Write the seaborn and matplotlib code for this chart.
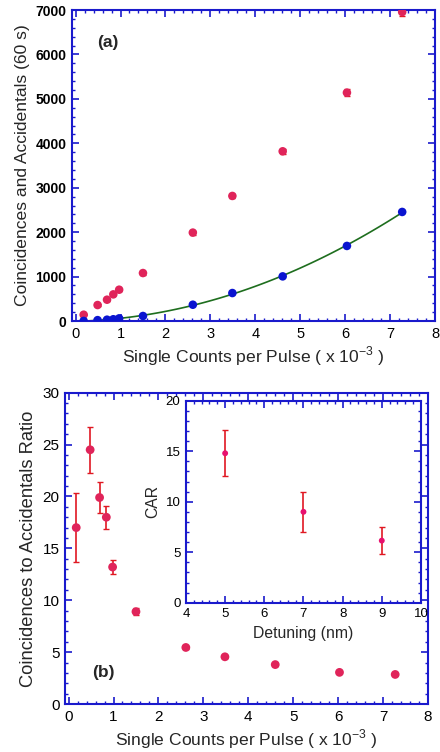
import numpy as np
import pandas as pd
import matplotlib
matplotlib.use("Agg")
import matplotlib.pyplot as plt
import seaborn as sns
from matplotlib.ticker import MultipleLocator

sns.set_theme(style="white")
plt.rcParams['font.family'] = ['Liberation Sans', 'DejaVu Sans']
plt.rcParams['mathtext.fontset'] = 'custom'
plt.rcParams['mathtext.rm'] = 'Liberation Sans'

# panel (a)
singles = [0.18, 0.49, 0.70, 0.84, 0.97, 1.50, 2.61, 3.49, 4.61, 6.04, 7.27]
coinc = [142, 360, 480, 600, 705, 1080, 1990, 2815, 3820, 5140, 6955]
coinc_err = [12, 19, 22, 25, 27, 33, 45, 53, 62, 72, 83]
accid = [2, 20, 30, 40, 60, 113, 367, 630, 1005, 1690, 2455]

# panel (b)
car_x = [0.17, 0.48, 0.69, 0.84, 0.98, 1.50, 2.61, 3.48, 4.60, 6.03, 7.27]
car = [17.0, 24.5, 19.9, 18.0, 13.2, 8.9, 5.45, 4.55, 3.8, 3.05, 2.85]
car_err = [3.3, 2.2, 1.45, 1.1, 0.7, 0.35, 0.12, 0.1, 0.1, 0.08, 0.08]

# inset
detuning = [5, 7, 9]
car_det = [14.8, 9.0, 6.15]
car_det_err = [2.3, 1.95, 1.3]

BLUE_AX = '#1a1acc'
RED = '#e0245a'
ERR = '#e01822'
BLUE = '#0a14d0'
GREEN = '#1e6e1e'

df_a = pd.DataFrame({'x': singles, 'coinc': coinc, 'accid': accid})
df_b = pd.DataFrame({'x': car_x, 'car': car})
df_i = pd.DataFrame({'x': detuning, 'car': car_det})

XLAB = 'Single Counts per Pulse ( x 10$^{\\mathregular{-3}}$ )'


def style_axes(ax, xmaj, xmin, ymaj, ymin, lsize):
    for s in ax.spines.values():
        s.set_color(BLUE_AX)
        s.set_linewidth(1.5)
    ax.xaxis.set_major_locator(MultipleLocator(xmaj))
    ax.xaxis.set_minor_locator(MultipleLocator(xmin))
    ax.yaxis.set_major_locator(MultipleLocator(ymaj))
    ax.yaxis.set_minor_locator(MultipleLocator(ymin))
    ax.tick_params(which='both', direction='in', top=True, right=True,
                   bottom=True, left=True, color=BLUE_AX, labelsize=lsize,
                   labelcolor='black')
    ax.tick_params(which='major', length=5, width=1.2, pad=4)
    ax.tick_params(which='minor', length=2.5, width=1)


fig = plt.figure(figsize=(4.4, 7.52), dpi=100)

# ---- (a)
ax1 = fig.add_axes([0.1636, 0.5731, 0.825, 0.4136])
ax1.errorbar(df_a['x'], df_a['coinc'], yerr=coinc_err, fmt='none',
             ecolor=ERR, elinewidth=1, capsize=2.5, zorder=2)
sns.scatterplot(data=df_a, x='x', y='coinc', ax=ax1, color=RED, s=38,
                edgecolor='none', zorder=3)
sns.regplot(data=df_a, x='x', y='accid', ax=ax1, order=2, ci=None,
            scatter=False, line_kws={'color': GREEN, 'lw': 1.2}, truncate=True)
sns.scatterplot(data=df_a, x='x', y='accid', ax=ax1, color=BLUE, s=38,
                edgecolor='none', zorder=4)
ax1.set_xlim(-0.08, 8)
ax1.set_ylim(0, 7000)
style_axes(ax1, 1, 0.2, 1000, 200, 10.5)
for t in ax1.get_yticklabels():
    t.set_fontweight('bold')
    t.set_fontsize(10)
ax1.set_xlabel(XLAB, fontsize=12.6, labelpad=3)
ax1.set_ylabel('Coincidences and Accidentals (60 s)', fontsize=12.6)
ax1.text(0.07, 0.894, '(a)', transform=ax1.transAxes, fontsize=12.5,
         fontweight='bold', va='center')

# ---- (b)
ax2 = fig.add_axes([0.1477, 0.0638, 0.825, 0.414])
ax2.errorbar(df_b['x'], df_b['car'], yerr=car_err, fmt='none',
             ecolor=ERR, elinewidth=1.2, capsize=2.5, zorder=2)
sns.scatterplot(data=df_b, x='x', y='car', ax=ax2, color=RED, s=40,
                edgecolor='none', zorder=3)
ax2.set_xlim(-0.08, 8)
ax2.set_ylim(0, 30)
style_axes(ax2, 1, 0.2, 5, 1, 11)
ax2.set_xlabel(XLAB, fontsize=12.6, labelpad=3)
ax2.set_ylabel('Coincidences to Accidentals Ratio', fontsize=13.2)
ax2.text(0.074, 0.10, '(b)', transform=ax2.transAxes, fontsize=12.5,
         fontweight='bold', va='center')

# ---- inset
ax3 = fig.add_axes([0.4227, 0.1985, 0.534, 0.2686])
ax3.errorbar(df_i['x'], df_i['car'], yerr=car_det_err, fmt='none',
             ecolor=ERR, elinewidth=1.2, capsize=2.5, zorder=2)
sns.scatterplot(data=df_i, x='x', y='car', ax=ax3, color='#e8106e', s=18,
                edgecolor='none', zorder=3)
ax3.set_xlim(4, 10)
ax3.set_ylim(0, 20)
style_axes(ax3, 1, 0.2, 5, 1, 9.5)
ax3.set_xlabel('Detuning (nm)', fontsize=11.3)
ax3.set_ylabel('CAR', fontsize=11.3)

fig.savefig('out.png', dpi=100)
